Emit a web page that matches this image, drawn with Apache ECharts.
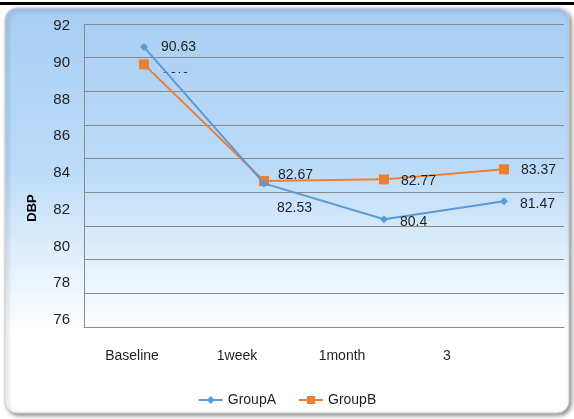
<!DOCTYPE html>
<html>
<head>
<meta charset="utf-8">
<script src="https://cdn.jsdelivr.net/npm/echarts@6/dist/echarts.min.js"></script>
<style>
  html, body { margin: 0; padding: 0; background: #ffffff; }
  #chart { width: 574px; height: 419px; }
</style>
</head>
<body>
<div id="chart"></div>
<script>
// Diastolic blood pressure by visit, two groups
const categories = ['Baseline', '1week', '1month', '3'];
const groupA = [90.63, 82.53, 80.4, 81.47];
const groupB = [89.6, 82.67, 82.77, 83.37];
const yTickLabels = [76, 78, 80, 82, 84, 86, 88, 90, 92];
const yTitle = 'DBP';

// per-point label nudges (pixels)
const offsetsA = [[8, 0], [4, 25], [7, 3], [7, 3]];
const offsetsB = [[8, 5], [4, -6], [7, 2], [7, 1]];

const font = 'Liberation Sans, Arial, sans-serif';
const txt = '#1f1f1f';

function points(values, offsets) {
  return values.map((v, i) => ({
    value: v,
    label: { offset: offsets[i] }
  }));
}

const chart = echarts.init(document.getElementById('chart'), null, { renderer: 'canvas' });

chart.setOption({
  animation: false,
  backgroundColor: '#ffffff',
  textStyle: { fontFamily: font },
  graphic: [
    { type: 'rect', z: -10, shape: { x: 0, y: 2, width: 574, height: 3 }, style: { fill: '#000000' } },
    {
      type: 'rect', z: -9,
      shape: { x: 5, y: 8, width: 564, height: 405, r: 12 },
      style: {
        fill: new echarts.graphic.LinearGradient(0, 0, 0, 1, [
          { offset: 0, color: '#a8cef4' },
          { offset: 0.4, color: '#bcdbf8' },
          { offset: 0.62, color: '#e2f0fc' },
          { offset: 0.8, color: '#ffffff' },
          { offset: 1, color: '#ffffff' }
        ]),
        stroke: '#d0d0d0',
        lineWidth: 1,
        shadowColor: 'rgba(0,0,0,0.45)',
        shadowBlur: 4,
        shadowOffsetX: 2,
        shadowOffsetY: 2
      }
    },
    // partially hidden data label at the first point of GroupB
    { type: 'rect', z: 1.5, shape: { x: 152, y: 60, width: 44, height: 12 }, style: { fill: '#afd2f5' } },
    // value axis title
    {
      type: 'text', z: 5, x: 32, y: 208, rotation: Math.PI / 2,
      style: {
        text: yTitle, fill: '#000000', font: 'bold 13px ' + font,
        align: 'center', verticalAlign: 'middle'
      }
    }
  ],
  grid: [
    { left: 84, right: 10, top: 24, bottom: 92 },
    { left: 84, right: 10, top: 26, bottom: 99 },
    { left: 79.5, right: 74.5, top: 24, bottom: 78 }
  ],
  legend: {
    data: ['GroupA', 'GroupB'],
    left: 'center',
    top: 388,
    itemWidth: 24,
    itemHeight: 10,
    itemGap: 22,
    textStyle: { fontSize: 14, color: txt, fontFamily: font }
  },
  xAxis: [
    {
      type: 'category', gridIndex: 0, data: categories, boundaryGap: true,
      axisLine: { show: true, lineStyle: { color: '#8a8a8a', width: 1 } },
      axisTick: { show: false }, axisLabel: { show: false }, splitLine: { show: false }
    },
    {
      type: 'category', gridIndex: 1, data: categories, show: false
    },
    {
      type: 'category', gridIndex: 2, data: categories, boundaryGap: true,
      axisLine: { show: false }, axisTick: { show: false }, splitLine: { show: false },
      axisLabel: { color: txt, fontSize: 14, margin: 8, fontFamily: font }
    }
  ],
  yAxis: [
    {
      type: 'value', gridIndex: 0, min: 74, max: 92, interval: 2,
      axisLine: { show: true, lineStyle: { color: '#8a8a8a', width: 1 } },
      axisTick: { show: false }, axisLabel: { show: false },
      splitLine: { show: true, lineStyle: { color: '#8a8a8a', width: 1 } }
    },
    {
      type: 'value', gridIndex: 1, min: 76, max: 92, interval: 2,
      axisLine: { show: false }, axisTick: { show: false }, splitLine: { show: false },
      axisLabel: {
        color: txt, fontSize: 15, margin: 14, fontFamily: font,
        formatter: v => (yTickLabels.includes(v) ? String(v) : '')
      }
    },
    {
      type: 'value', gridIndex: 2, min: 74, max: 92, show: false
    }
  ],
  series: [
    {
      name: 'GroupB', type: 'line', xAxisIndex: 0, yAxisIndex: 0, z: 1,
      data: points(groupB, offsetsB),
      symbol: 'rect', symbolSize: 10,
      itemStyle: { color: '#ed7d31' },
      lineStyle: { color: '#ed7d31', width: 2 },
      label: { show: true, position: 'right', distance: 5, color: txt, fontSize: 14, fontFamily: font },
      emphasis: { disabled: true }
    },
    {
      name: 'GroupA', type: 'line', xAxisIndex: 0, yAxisIndex: 0, z: 2,
      data: points(groupA, offsetsA),
      symbol: 'diamond', symbolSize: 8,
      itemStyle: { color: '#5b9bd5' },
      lineStyle: { color: '#5b9bd5', width: 2 },
      label: { show: true, position: 'right', distance: 5, color: txt, fontSize: 14, fontFamily: font },
      emphasis: { disabled: true }
    }
  ]
});
</script>
</body>
</html>
